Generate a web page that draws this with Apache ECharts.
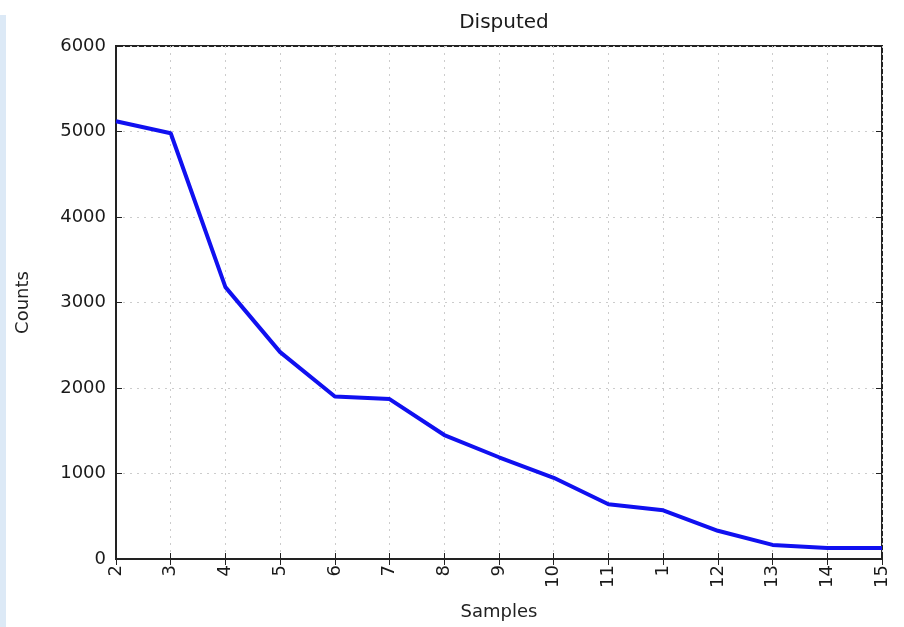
<!DOCTYPE html>
<html>
<head>
<meta charset="utf-8">
<script src="https://cdn.jsdelivr.net/npm/echarts@6/dist/echarts.min.js"></script>
<style>
html, body { margin: 0; padding: 0; background: #fff; }
.strip { position: absolute; left: 0; top: 15px; width: 6px; height: 612px; background: #dce9f6; }
#chart { width: 904px; height: 627px; }
</style>
</head>
<body>
<div class="strip"></div>
<div id="chart"></div>
<script>
// sample labels along x, in the order they are plotted
const samples = ['2', '3', '4', '5', '6', '7', '8', '9', '10', '11', '1', '12', '13', '14', '15']
// counts
const counts = [5120, 4980, 3180, 2420, 1900, 1870, 1450, 1190, 950, 640, 570, 330, 165, 130, 130]

const myChart = echarts.init(document.getElementById('chart'))

const tickStyle = { show: true, inside: true, length: 6, lineStyle: { color: '#222', width: 1 } }

let option = {
    animation: false,
    title: {
        text: 'Disputed',
        left: 499,
        top: 8,
        textAlign: 'center',
        textStyle: { fontFamily: 'DejaVu Sans', fontSize: 20, fontWeight: 'normal', color: '#1a1a1a' }
    },
    grid: {
        left: 116,
        right: 22,
        top: 46,
        bottom: 68,
        outerBoundsMode: 'none',
        containLabel: false,
        show: true,
        borderColor: '#222',
        borderWidth: 2
    },
    xAxis: [
        {
            type: 'category',
            data: samples,
            boundaryGap: false,
            name: 'Samples',
            nameLocation: 'middle',
            nameGap: 44,
            nameTextStyle: { fontFamily: 'DejaVu Sans', fontSize: 18, color: '#222' },
            axisLine: { lineStyle: { color: '#222', width: 2 } },
            axisTick: tickStyle,
            axisLabel: {
                rotate: 90,
                margin: 6,
                fontFamily: 'DejaVu Sans',
                fontSize: 18,
                color: '#1a1a1a'
            },
            splitLine: { show: true, lineStyle: { color: '#ccc', type: [2, 5] } }
        },
        {
            type: 'category',
            data: samples,
            boundaryGap: false,
            position: 'top',
            axisLine: { show: false },
            axisTick: tickStyle,
            axisLabel: { show: false },
            splitLine: { show: false }
        }
    ],
    yAxis: [
        {
            type: 'value',
            min: 0,
            max: 6000,
            interval: 1000,
            name: 'Counts',
            nameLocation: 'middle',
            nameGap: 84,
            nameTextStyle: { fontFamily: 'DejaVu Sans', fontSize: 18, color: '#222' },
            axisLine: { show: true, lineStyle: { color: '#222', width: 2 } },
            axisTick: tickStyle,
            axisLabel: {
                fontFamily: 'DejaVu Sans',
                fontSize: 18,
                color: '#1a1a1a',
                margin: 10,
                formatter: (v) => String(v)
            },
            splitLine: { show: true, lineStyle: { color: '#ccc', type: [2, 5] } }
        },
        {
            type: 'value',
            min: 0,
            max: 6000,
            interval: 1000,
            position: 'right',
            axisLine: { show: false },
            axisTick: tickStyle,
            axisLabel: { show: false },
            splitLine: { show: false }
        }
    ],
    series: [
        {
            type: 'line',
            data: counts,
            symbol: 'none',
            lineStyle: { color: '#1010f0', width: 4 }
        }
    ]
}

myChart.setOption(option)
</script>
</body>
</html>
